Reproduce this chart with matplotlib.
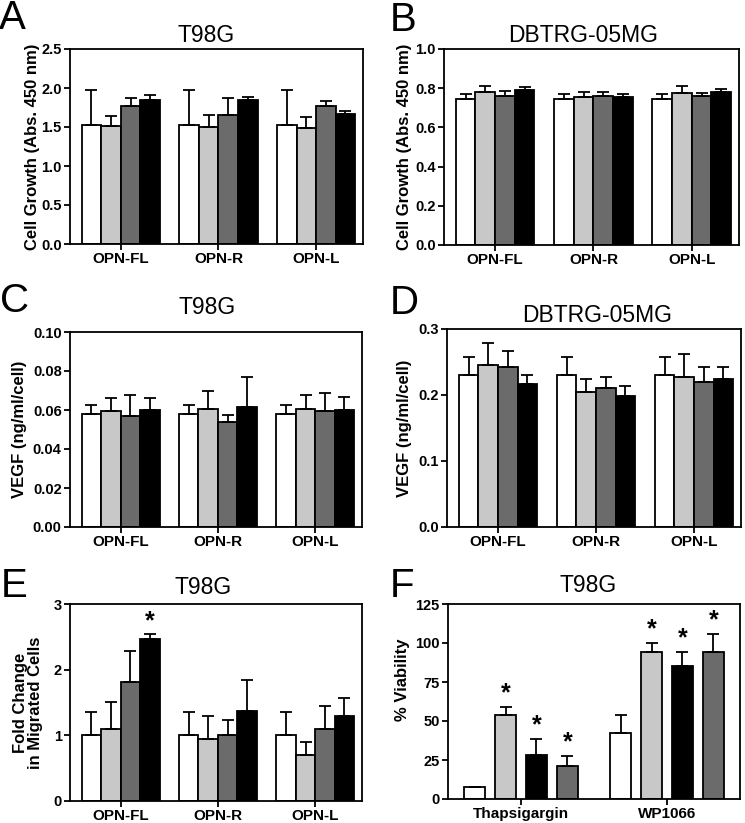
import matplotlib
matplotlib.use('Agg')
import matplotlib.pyplot as plt
import numpy as np

plt.rcParams['font.family'] = ['Liberation Sans', 'DejaVu Sans']

W, H = 745, 823

groups = ['OPN-FL', 'OPN-R', 'OPN-L']
colors4 = ['white', '#c8c8c8', '#6b6b6b', 'black']

# Panel A: T98G cell growth (rows = groups, cols = series)
a_means = [[1.52, 1.51, 1.77, 1.84], [1.52, 1.50, 1.66, 1.84], [1.52, 1.49, 1.77, 1.67]]
a_errs = [[0.45, 0.13, 0.10, 0.07], [0.45, 0.15, 0.21, 0.04], [0.45, 0.14, 0.06, 0.04]]

# Panel B: DBTRG-05MG cell growth
b_means = [[0.744, 0.783, 0.759, 0.790], [0.744, 0.756, 0.761, 0.756], [0.744, 0.773, 0.759, 0.783]]
b_errs = [[0.025, 0.029, 0.029, 0.017], [0.025, 0.027, 0.022, 0.013], [0.025, 0.036, 0.019, 0.015]]

# Panel C: T98G VEGF
c_means = [[0.058, 0.0595, 0.057, 0.060], [0.058, 0.0605, 0.054, 0.0615], [0.058, 0.0605, 0.0595, 0.060]]
c_errs = [[0.0045, 0.0065, 0.0105, 0.006], [0.0045, 0.009, 0.0035, 0.0155], [0.0045, 0.007, 0.009, 0.0065]]

# Panel D: DBTRG-05MG VEGF
d_means = [[0.231, 0.245, 0.242, 0.217], [0.231, 0.204, 0.211, 0.199], [0.231, 0.228, 0.219, 0.225]]
d_errs = [[0.026, 0.034, 0.025, 0.013], [0.026, 0.020, 0.016, 0.014], [0.026, 0.034, 0.024, 0.017]]

# Panel E: T98G migration
e_means = [[1.0, 1.09, 1.81, 2.46], [1.0, 0.95, 1.0, 1.37], [1.0, 0.70, 1.09, 1.30]]
e_errs = [[0.35, 0.42, 0.48, 0.08], [0.35, 0.35, 0.23, 0.48], [0.35, 0.20, 0.35, 0.27]]
e_stars = [[False, False, False, True], [False] * 4, [False] * 4]

# Panel F: T98G viability
f_groups = ['Thapsigargin', 'WP1066']
f_colors = ['white', '#c8c8c8', 'black', '#6b6b6b']
f_means = [[7.5, 54, 28, 21], [42.5, 94, 85, 94.5]]
f_errs = [[0, 5, 10.5, 6.5], [11.5, 6, 9.5, 11.5]]
f_stars = [[False, True, True, True], [False, True, True, True]]

fig = plt.figure(figsize=(W / 100, H / 100), dpi=100)


def add_axes(l, r, t, b):
    return fig.add_axes([l / W, 1 - b / H, (r - l) / W, (b - t) / H])


LW = 1.3


def style(ax, ylim, yticks, fmt, xticks, xlabels, xlim):
    ax.set_ylim(*ylim)
    ax.set_yticks(yticks)
    ax.set_yticklabels([fmt.format(v) for v in yticks])
    ax.set_xlim(*xlim)
    ax.set_xticks(xticks)
    ax.set_xticklabels(xlabels)
    for s in ax.spines.values():
        s.set_linewidth(LW)
    ax.tick_params(direction='out', length=4, width=LW, pad=2)
    ax.tick_params(axis='x', labelsize=11)
    ax.tick_params(axis='y', labelsize=10.5)
    for lab in ax.get_xticklabels() + ax.get_yticklabels():
        lab.set_fontweight('bold')


def grouped(ax, means, errs, colors, width, step, stars=None):
    ng = len(means)
    ns = len(means[0])
    x = np.arange(ng)
    for s in range(ns):
        vals = [means[g][s] for g in range(ng)]
        ers = [errs[g][s] for g in range(ng)]
        pos = x + (s - (ns - 1) / 2) * step
        ax.bar(pos, vals, width, color=colors[s], edgecolor='black', linewidth=LW,
               yerr=[np.zeros(ng), ers], capsize=4,
               error_kw=dict(elinewidth=LW, capthick=LW, ecolor='black'), zorder=2)
        if stars is not None:
            for g in range(ng):
                if stars[g][s]:
                    ax.annotate('*', (pos[g], vals[g] + ers[g]), xytext=(0, 1),
                                textcoords='offset points', ha='center', va='bottom',
                                fontsize=18, fontweight='bold')


def ylab(ax, text, x, y=0.5):
    ax.set_ylabel(text, fontsize=12, fontweight='bold', linespacing=1.05)
    ax.yaxis.set_label_coords(x, y)


def fig_text(px, py, s, size, ha='center'):
    fig.text(px / W, 1 - py / H, s, fontsize=size, ha=ha, va='center')


xl = (-0.52, 2.48)

# A
ax = add_axes(70, 363, 49, 244)
grouped(ax, a_means, a_errs, colors4, 0.2, 0.2)
style(ax, (0, 2.5), [0, 0.5, 1.0, 1.5, 2.0, 2.5], '{:.1f}', [0, 1, 2], groups, xl)
ylab(ax, 'Cell Growth (Abs. 450 nm)', -0.102)

# B
ax = add_axes(444, 739, 49, 245)
grouped(ax, b_means, b_errs, colors4, 0.2, 0.2)
style(ax, (0, 1.0), [0, 0.2, 0.4, 0.6, 0.8, 1.0], '{:.1f}', [0, 1, 2], groups, xl)
ylab(ax, 'Cell Growth (Abs. 450 nm)', -0.108)

# C
ax = add_axes(70, 362, 332, 527)
grouped(ax, c_means, c_errs, colors4, 0.2, 0.2)
style(ax, (0, 0.10), [0, 0.02, 0.04, 0.06, 0.08, 0.10], '{:.2f}', [0, 1, 2], groups, xl)
ylab(ax, 'VEGF (ng/ml/cell)', -0.147)

# D
ax = add_axes(447, 741, 329, 527)
grouped(ax, d_means, d_errs, colors4, 0.2, 0.2)
style(ax, (0, 0.3), [0, 0.1, 0.2, 0.3], '{:.1f}', [0, 1, 2], groups, xl)
ylab(ax, 'VEGF (ng/ml/cell)', -0.119)

# E
ax = add_axes(70, 362, 604, 801)
grouped(ax, e_means, e_errs, colors4, 0.2, 0.2, stars=e_stars)
style(ax, (0, 3), [0, 1, 2, 3], '{:.0f}', [0, 1, 2], groups, xl)
ylab(ax, 'Fold Change\nin Migrated Cells', -0.092)

# F
ax = add_axes(448, 740, 604, 799)
grouped(ax, f_means, f_errs, f_colors, 0.144, 0.212, stars=f_stars)
style(ax, (0, 125), [0, 25, 50, 75, 100, 125], '{:.0f}', [0, 1], f_groups, (-0.5, 1.5))
ylab(ax, '% Viability', -0.13, 0.61)

# titles
fig_text(206, 35, 'T98G', 16.5)
fig_text(583, 35, 'DBTRG-05MG', 16.5)
fig_text(207, 308, 'T98G', 16.5)
fig_text(597, 315, 'DBTRG-05MG', 16.5)
fig_text(203, 587, 'T98G', 16.5)
fig_text(588, 585, 'T98G', 16.5)

# panel letters
fig_text(-1, 18, 'A', 29, ha='left')
fig_text(390, 20, 'B', 29, ha='left')
fig_text(0, 301, 'C', 29, ha='left')
fig_text(390, 303, 'D', 29, ha='left')
fig_text(1, 586, 'E', 29, ha='left')
fig_text(390, 586, 'F', 29, ha='left')

fig.savefig('out.png', dpi=100)
